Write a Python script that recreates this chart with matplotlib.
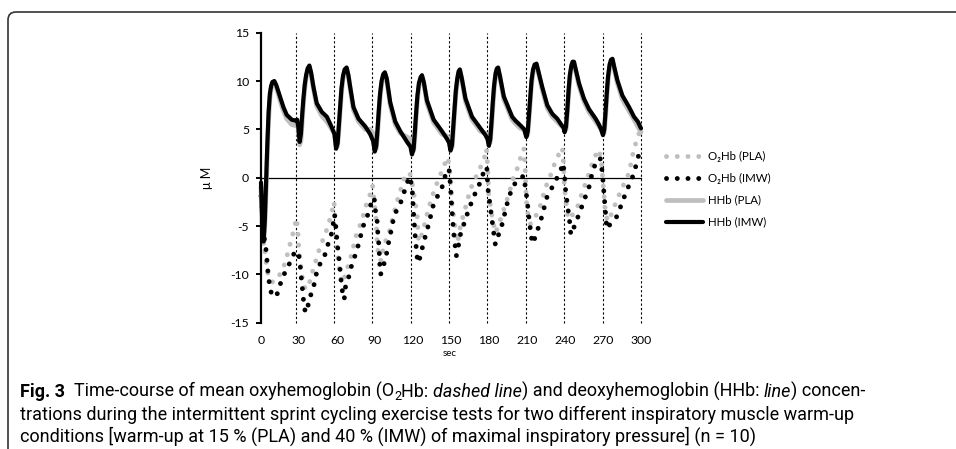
import matplotlib
matplotlib.use("Agg")
import matplotlib.pyplot as plt
from matplotlib import font_manager
from matplotlib.transforms import IdentityTransform
from matplotlib.patches import FancyBboxPatch

# ---------------- data ----------------
hhb_time = [0, 1, 2, 3, 4, 5, 6, 7, 8, 9, 10.5, 12, 15, 17.7, 20.3, 24.3, 27, 28.5, 29.5, 30.5,
            31.5, 32.5, 33.5, 34.5, 35.6, 36.8, 38.2, 39.5, 41.4, 44, 48, 52, 55.9, 58, 59.3,
            60.5, 61.5, 62.5, 63.5, 64.7, 66, 67.6, 69, 70.4, 73, 77, 82.3, 86.2, 88.5, 89.8,
            91, 92, 93, 94, 95.2, 96.5, 97.8, 99.2, 102, 106, 110, 115.3, 118, 119.2,
            120.5, 121.5, 122.5, 123.5, 124.7, 126, 127.1, 128.5, 131, 136.3, 142.9, 146.9, 148.5, 149.6,
            150.8, 151.8, 152.8, 153.8, 155, 156, 157, 158.5, 161.4, 166.6, 173.3, 177.2, 178.8, 179.9,
            181, 182, 183, 184, 185.2, 186.2, 187.2, 188.5, 191.7, 198.3, 200.9, 204.9, 207.8, 209.5,
            210.6, 211.6, 212.6, 213.6, 214.8, 216, 217.5, 218.8, 222, 226, 230, 233.9, 237.5, 238.8, 239.7,
            240.8, 241.8, 242.8, 243.8, 245, 246, 247.1, 248.3, 251, 254.9, 258.9, 264.2, 266.8, 268.5, 270,
            271, 272, 273, 274, 275.2, 276.3, 277.5, 278.8, 281.3, 285.3, 290.6, 294.5, 297.5, 300]

hhb_imw = [-0.5, -4.5, -6.6, -4.5, -0.5, 3.5, 6.8, 8.7, 9.5, 9.9, 10.0, 9.6, 8.4, 7.3, 6.5, 6.0, 5.9, 6.0, 5.2, 3.7,
           4.5, 6.5, 8.2, 9.6, 10.6, 11.3, 11.6, 10.9, 9.4, 7.7, 6.8, 6.3, 5.2, 4.5, 3.0,
           3.6, 5.5, 7.5, 9.2, 10.5, 11.2, 11.4, 10.6, 9.4, 7.3, 6.1, 5.3, 4.5, 3.8, 2.7,
           3.3, 5.0, 7.0, 8.7, 10.0, 10.7, 10.9, 10.3, 7.8, 5.8, 4.8, 3.7, 3.2, 2.4,
           3.0, 4.8, 6.8, 8.5, 9.8, 10.4, 10.6, 9.9, 8.0, 6.0, 4.8, 4.0, 3.6, 2.8,
           3.4, 5.3, 7.3, 9.0, 10.3, 11.0, 11.2, 10.3, 8.2, 6.3, 5.1, 4.4, 4.0, 3.3,
           4.0, 5.8, 7.8, 9.5, 10.8, 11.3, 11.4, 10.6, 8.4, 6.3, 5.9, 5.4, 5.0, 4.2,
           4.8, 6.6, 8.5, 10.1, 11.2, 11.7, 11.8, 11.1, 9.4, 7.5, 6.6, 6.1, 5.4, 5.2, 4.7,
           5.3, 7.0, 9.0, 10.6, 11.6, 12.0, 12.0, 11.3, 9.8, 8.2, 7.1, 6.1, 5.5, 5.0, 4.4,
           5.0, 6.8, 8.8, 10.5, 11.7, 12.2, 12.3, 11.5, 10.1, 8.5, 7.3, 6.3, 5.8, 5.1]

hhb_pla = [-1.0, -5.0, -6.8, -5.0, -1.5, 2.5, 6.0, 8.2, 9.2, 9.7, 9.9, 9.4, 8.0, 6.9, 6.1, 5.5, 5.4, 5.6, 5.0, 3.4,
           3.8, 5.8, 7.7, 9.2, 10.3, 11.1, 11.4, 10.8, 9.2, 7.4, 6.4, 5.8, 5.0, 4.6, 3.2,
           3.3, 5.0, 7.0, 8.8, 10.2, 11.0, 11.2, 10.5, 9.2, 7.0, 5.8, 5.0, 5.0, 4.6, 3.0,
           3.0, 4.5, 6.5, 8.3, 9.7, 10.5, 10.7, 10.2, 7.5, 5.5, 4.6, 4.2, 4.0, 2.8,
           2.8, 4.3, 6.3, 8.1, 9.5, 10.2, 10.4, 9.8, 7.7, 5.7, 4.5, 4.3, 4.0, 3.0,
           3.1, 4.8, 6.8, 8.6, 10.0, 10.8, 11.0, 10.2, 7.9, 6.0, 4.8, 4.6, 4.4, 3.5,
           3.7, 5.3, 7.3, 9.1, 10.5, 11.1, 11.2, 10.5, 8.1, 6.0, 5.6, 5.1, 5.0, 4.3,
           4.5, 6.1, 8.0, 9.7, 10.9, 11.5, 11.6, 11.0, 9.1, 7.2, 6.3, 5.8, 5.3, 5.2, 4.8,
           5.0, 6.6, 8.5, 10.2, 11.3, 11.8, 11.8, 11.2, 9.5, 7.9, 6.8, 5.8, 5.3, 5.0, 4.5,
           4.7, 6.3, 8.3, 10.1, 11.4, 11.9, 12.0, 11.3, 9.8, 8.1, 6.9, 6.0, 5.3, 4.7]

o2hb_imw_time = [0, 1, 2, 3, 4.5, 5, 6.1, 7.1, 9.2, 11, 12.9, 15.5, 18.2, 19.8, 23.5, 26.9, 29.6,
                 30.9, 31.7, 32.8, 33.5, 34.8, 36.7, 37.5, 41, 42.8, 44.6, 48, 50.7, 53.3, 55.9, 57.3, 58.1,
                 59.4, 59.9, 60.7, 61.8, 62.6, 63.4, 64.4, 65.7, 66.5, 69.2, 71.3, 74.4, 77, 78.9, 81, 83.6,
                 86.3, 87.6, 89.4, 90.2, 91.6, 92.1, 92.9, 93.4, 93.7, 94.4, 95.6, 97.7, 99.6, 100.9, 103.5,
                 104.9, 107, 110.2, 113, 115.5, 117, 118.5, 119.5, 120.5, 121.8, 123.7, 125, 128.4, 132.4,
                 136.3, 142.9, 146.9, 148.5, 149.5, 150.8, 152.1, 154.2, 155.5, 157.4, 162.7, 167.4, 171.9,
                 177.2, 178.3, 179, 181.1, 183.2, 185, 186.5, 190.4, 194.3, 198.3, 202.3, 207.5, 208.5,
                 210.2, 211.5, 214.1, 215.5, 220.7, 226, 231.3, 236.5, 238.5, 239.5, 240.5, 241.8, 243.9,
                 244.6, 246, 251, 254.9, 258.9, 261.6, 265, 267.8, 269.5, 270.4, 271.7, 273, 274.5, 281,
                 287.6, 294.2, 298.5, 300]
o2hb_imw = [-1.9, -3.5, -5.5, -6.5, -8.0, -9.2, -10.4, -11.5, -12.3, -12.0, -12.0, -10.9, -10.0, -9.6, -8.6, -7.6, -7.8,
            -9.0, -10.2, -11.6, -12.6, -13.8, -13.9, -12.7, -11.6, -10.5, -9.4, -8.6, -7.9, -6.7, -5.7, -4.5, -3.8,
            -5.5, -6.4, -7.4, -8.6, -9.7, -10.9, -11.9, -12.6, -11.4, -10.3, -9.2, -8.0, -6.9, -5.9, -4.9, -4.1,
            -3.0, -2.2, -2.1, -3.3, -4.3, -5.5, -6.7, -7.8, -8.8, -10.0, -9.7, -8.6, -7.6, -6.6, -5.0,
            -4.0, -3.4, -2.6, -1.5, -0.5, 0.1, -0.5, -1.5, -3.8, -6.2, -8.8, -8.5, -6.7, -4.8,
            -2.7, -1.0, 0.9, 0.8, -0.7, -3.4, -5.7, -8.1, -7.3, -5.9, -3.8, -2.1, -0.85,
            1.07, 1.1, -1.0, -3.1, -5.2, -6.9, -6.3, -4.8, -2.7, -1.0, -0.3, 0.2, -0.8,
            -2.4, -4.1, -6.8, -6.5, -4.5, -1.9, -0.65, 0.73, 1.5, 0.5, -1.35, -2.7, -4.8,
            -5.9, -5.5, -3.8, -2.4, -1.0, 0.56, 1.8, 2.0, 0.5, -1.0, -3.1, -5.3, -5.0, -4.0,
            -1.7, 0.35, 2.5, 2.9]

o2hb_pla_time = [0, 1, 2, 3, 4.5, 6, 7.5, 9.5, 11.6, 13.7, 17.7, 20.3, 23.5, 26.4, 28, 29, 29.6, 30.8, 32.7,
                 34.8, 37.5, 38.8, 41.4, 44, 46.7, 50.6, 53.3, 55.9, 57.7, 58.5, 59.3, 60.4, 61.9, 63.8,
                 65.5, 67.8, 70.4, 73, 75.7, 79.6, 82.3, 86.2, 88.1, 89.6, 91, 91.5, 92.8, 95, 96.8,
                 100.7, 104.7, 108.6, 111.3, 113.9, 116.6, 118.5, 120.5, 123.2, 124.5, 125.5, 128.4, 132.4,
                 136.3, 140.3, 144.2, 146.9, 148.5, 149.5, 150.8, 153.4, 154.8, 156, 157.4, 161.4, 165.3,
                 170.6, 173.3, 175.9, 178, 179, 179.8, 182.5, 185.1, 186.5, 190.4, 195.7, 199.6, 202.5, 205,
                 207.5, 208.5, 209.5, 211, 212.8, 214, 219.4, 224.7, 230, 232.6, 237.9, 238.8, 239.5, 242.3,
                 243.5, 249.7, 253.7, 258.9, 262.9, 266.5, 268.5, 270, 271.5, 273.5, 275, 281, 286, 290.6,
                 293.3, 297.2, 300]
o2hb_pla = [-1.0, -3.0, -6.0, -7.5, -9.3, -10.3, -10.7, -10.8, -10.5, -10.3, -9.3, -8.2, -6.6, -5.2, -4.2, -5.3, -6.7, -8.6, -10.4,
            -11.5, -11.3, -10.6, -9.4, -8.3, -7.1, -5.9, -4.8, -3.6, -2.5, -4.4, -5.9, -7.9, -9.6, -10.9,
            -10.5, -9.5, -8.5, -7.1, -5.7, -4.5, -3.1, -1.7, -0.8, -2.7, -4.5, -6.2, -8.3, -8.6, -7.0,
            -5.9, -3.8, -1.9, -0.85, 0.35, 0.5, 0.2, -1.5, -3.8, -6.6, -6.5, -5.2, -3.1,
            -1.5, -0.1, 1.1, 2.1, 1.5, 0.0, -2.7, -5.2, -6.7, -6.2, -5.0, -3.1, -1.2,
            0.35, 1.1, 1.8, 3.0, 1.0, -1.7, -4.1, -5.7, -5.3, -3.8, -1.7, 0.2, 1.0, 2.1,
            3.0, 1.0, -2.4, -4.0, -4.8, -4.6, -3.4, -1.0, 0.7, 1.8, 3.1, 1.5, -1.0, -4.1,
            -4.3, -3.1, -1.5, 0.4, 2.0, 2.9, 2.0, -0.5, -3.0, -4.5, -4.3, -2.3, -0.8, 0.5,
            2.3, 4.2, 5.0]

sprint_marks = [27.4, 57.7, 87.9, 118.3, 148.5, 178.8, 209.4, 239.6, 269.7, 300]
x_ticks = list(range(0, 301, 30))
y_ticks = [-15, -10, -5, 0, 5, 10, 15]
legend_labels = ["O\u2082Hb (PLA)", "O\u2082Hb (IMW)", "HHb (PLA)", "HHb (IMW)"]

GRAY = "#bfbfbf"
BLACK = "#000000"

# ---------------- fonts ----------------
def available(name):
    try:
        font_manager.findfont(font_manager.FontProperties(family=name), fallback_to_default=False)
        return True
    except Exception:
        return False

tick_font = "Lato" if available("Lato") else "DejaVu Sans"
cap_font = None
for cand in ["Liberation Sans Narrow", "Roboto", "Noto Sans", "DejaVu Sans"]:
    if available(cand):
        cap_font = cand
        break

W, H = 956, 449
fig = plt.figure(figsize=(W / 100, H / 100), dpi=100)
ax = fig.add_axes([261 / W, 1 - 322.7 / H, 380 / W, 290 / H])
ax.set_xlim(0, 300)
ax.set_ylim(-15, 15)

# zero line and sprint markers
ax.axhline(0, color="black", lw=0.9, zorder=1, clip_on=False)
for s in sprint_marks:
    ax.axvline(s, color="black", lw=0.8, ls=(0, (2, 2)), zorder=1, clip_on=False)

dot = (0, (0.01, 2.2))
l1, = ax.plot(o2hb_pla_time, o2hb_pla, color=GRAY, lw=3.5, ls=dot, dash_capstyle="round",
              zorder=2, clip_on=False)
l2, = ax.plot(o2hb_imw_time, o2hb_imw, color=BLACK, lw=3.5, ls=dot, dash_capstyle="round",
              zorder=3, clip_on=False)
l3, = ax.plot(hhb_time, hhb_pla, color=GRAY, lw=3.4, solid_joinstyle="round",
              solid_capstyle="round", zorder=4, clip_on=False)
l4, = ax.plot(hhb_time, hhb_imw, color=BLACK, lw=3.0, solid_joinstyle="round",
              solid_capstyle="round", zorder=5, clip_on=False)

for sp in ["top", "right", "bottom"]:
    ax.spines[sp].set_visible(False)
ax.spines["left"].set_linewidth(1.6)
ax.spines["left"].set_zorder(6)

ax.set_xticks(x_ticks)
ax.set_yticks(y_ticks)
ax.set_xticklabels([str(v) for v in x_ticks], fontfamily=tick_font, fontsize=8.8)
ax.set_yticklabels([str(v) for v in y_ticks], fontfamily=tick_font, fontsize=8.8)
ax.tick_params(axis="x", length=0, pad=9)
ax.tick_params(axis="y", length=3.5, width=1.4, direction="out", pad=5)

fig.text(207, H - 178, "\u03bc M", transform=IdentityTransform(), rotation=90,
         ha="center", va="center", fontsize=9, family=[tick_font, "DejaVu Sans"])
fig.text(450, H - 354, "sec", transform=IdentityTransform(), ha="center", va="center",
         fontsize=7, family=tick_font)

leg = fig.legend([l1, l2, l3, l4], legend_labels, loc="upper left",
                 bbox_to_anchor=(660 / W, 1 - 145 / H), frameon=False,
                 prop={"family": [tick_font, "DejaVu Sans"], "size": 8.3},
                 handlelength=3.2, handletextpad=0.45, labelspacing=0.95, borderpad=0)

# frame with rounded top-left corner
frame = FancyBboxPatch((8, -60), 1200, H - 12 + 60, boxstyle="round,pad=0,rounding_size=8",
                       transform=IdentityTransform(), fill=False, edgecolor="#333333", lw=1.2)
fig.patches.append(frame)

# ---------------- caption ----------------
renderer = fig.canvas.get_renderer()

def make(txt, kw, x, y, size):
    return fig.text(x, y + kw.get("dy", 0), txt, transform=IdentityTransform(), family=cap_font,
                    fontsize=size * kw.get("scale", 1), fontweight=kw.get("weight", "normal"),
                    fontstyle=kw.get("style", "normal"), va="baseline", ha="left")

def runs_width(runs, size):
    total = 0
    for txt, kw in runs:
        t = make(txt, kw, 0, 0, size)
        total += t.get_window_extent(renderer).width
        t.remove()
    return total

def place(runs, x, y, size):
    for txt, kw in runs:
        t = make(txt, kw, x, y, size)
        x += t.get_window_extent(renderer).width

line1 = [("Fig. 3", {"weight": "bold"}), ("  Time-course of mean oxyhemoglobin (O", {}),
         ("2", {"scale": 0.7, "dy": -3}), ("Hb: ", {}), ("dashed line", {"style": "italic"}),
         (") and deoxyhemoglobin (HHb: ", {}), ("line", {"style": "italic"}), (") concen-", {})]
line2 = [("trations during the intermittent sprint cycling exercise tests for two different inspiratory muscle warm-up", {})]
line3 = [("conditions [warm-up at 15 % (PLA) and 40 % (IMW) of maximal inspiratory pressure] (n = 10)", {})]

base = 10.0
w2 = runs_width(line2, base)
size = base * (870.0 / w2)
size = min(size, 13.0)
for runs, yb in [(line1, 397), (line2, 420), (line3, 442)]:
    place(runs, 20, H - yb, size)

fig.savefig("out.png", dpi=100)
